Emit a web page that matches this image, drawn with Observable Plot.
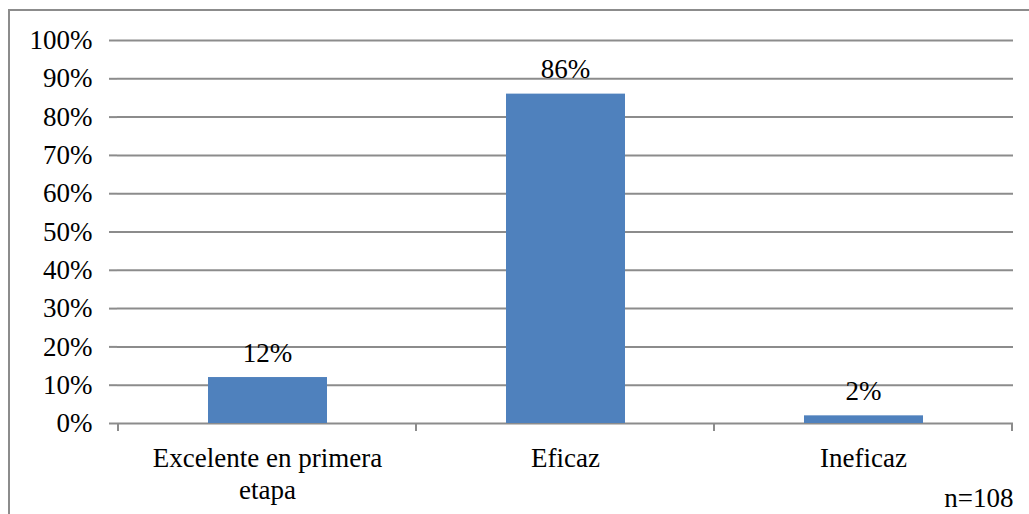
<!DOCTYPE html>
<html>
<head>
<meta charset="utf-8">
<script src="https://cdn.jsdelivr.net/npm/d3@7"></script>
<script src="https://cdn.jsdelivr.net/npm/@observablehq/plot@0.6"></script>
<style>
  html, body { margin: 0; padding: 0; background: #fff; font-family: 'Liberation Serif'; }
  #wrap { position: relative; width: 1029px; height: 514px; overflow: hidden; }
  #border { position: absolute; left: 8px; top: 9px; width: 1100px; height: 600px;
            border-top: 2px solid #8c8c8c; border-left: 2px solid #8c8c8c; }
  #chart { position: absolute; left: 0; top: 0; }
  #chart svg text, #chart svg tspan { font-family: 'Liberation Serif' !important; }
</style>
</head>
<body>
<div id="wrap"><div id="border"></div><div id="chart"></div></div>
<script>
const categories = ["Excelente en primera\netapa", "Eficaz", "Ineficaz"];
const values = [0.12, 0.86, 0.02];
const labels = ["12%", "86%", "2%"];
const yTicks = [0, 0.1, 0.2, 0.3, 0.4, 0.5, 0.6, 0.7, 0.8, 0.9, 1.0];
const caption = "n=108";

const data = categories.map((c, i) => ({cat: c, value: values[i], label: labels[i]}));
const font = "Liberation Serif";
const grid = "#8c8c8c";

const plot = Plot.plot({
  width: 1029,
  height: 514,
  marginLeft: 117,
  marginRight: 16,
  marginTop: 40,
  marginBottom: 91,
  style: {fontFamily: font, fontSize: "27px", color: "#000", background: "transparent", overflow: "visible"},
  x: {domain: categories, padding: 0, label: null},
  y: {domain: [0, 1], label: null},
  marks: [
    Plot.ruleY(yTicks, {stroke: grid, strokeWidth: 2}),
    Plot.barY(data, {x: "cat", y: "value", fill: "#4f81bd", insetLeft: 90, insetRight: 89}),
    Plot.text(data, {x: "cat", y: "value", text: "label", lineAnchor: "bottom", dy: -16, fontSize: 27, fontFamily: font}),
    Plot.axisY({ticks: yTicks, tickFormat: d => Math.round(d * 100) + "%", tickSize: 8, tickPadding: 17, stroke: grid, strokeWidth: 2, fontSize: 27, fontFamily: font}),
    Plot.ruleX([0], {frameAnchor: "left", y1: 0, y2: 1, stroke: grid, strokeWidth: 2}),
    Plot.axisX({tickSize: 0, tickPadding: 20, lineHeight: 1.2, fontSize: 27, fontFamily: font}),
    Plot.text([caption], {frameAnchor: "bottom-right", textAnchor: "end", dy: 83, fontSize: 27, fontFamily: font})
  ]
});

// category boundary ticks below the baseline
const xs = plot.scale("x");
const ys = plot.scale("y");
const svg = d3.select(plot);
const bw = xs.bandwidth;
const bounds = [xs.apply(categories[0])].concat(categories.map(c => xs.apply(c) + bw));
const y0 = ys.apply(0);
svg.append("g").selectAll("line").data(bounds).join("line")
  .attr("x1", d => d).attr("x2", d => d)
  .attr("y1", y0).attr("y2", y0 + 8)
  .attr("stroke", grid).attr("stroke-width", 2);

document.getElementById("chart").appendChild(plot);

// force the serif face on every text node
svg.attr("class", null);
svg.selectAll("*").attr("class", null);
svg.selectAll("style").remove();
svg.node().style.setProperty("font-family", "'Liberation Serif'", "important");
svg.selectAll("g").each(function() { this.style.setProperty("font-family", "'Liberation Serif'", "important"); });
svg.selectAll("text, tspan").each(function() {
  this.setAttribute("font-family", "Liberation Serif");
  this.style.setProperty("font-family", "'Liberation Serif'", "important");
});
</script>
</body>
</html>
